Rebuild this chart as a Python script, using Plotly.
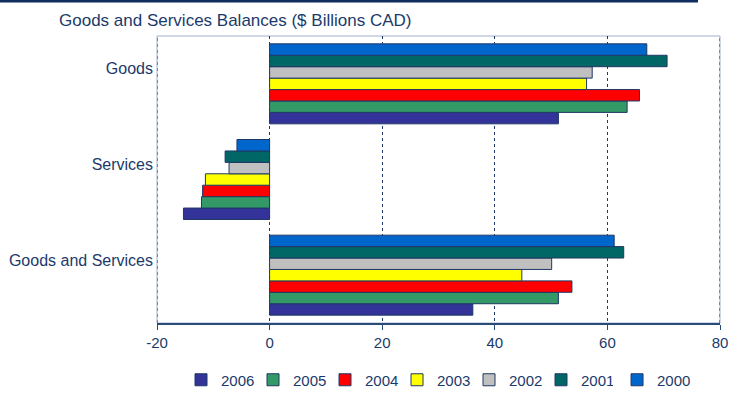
import plotly.graph_objects as go

# Balances in $ billions CAD
categories = ["Goods", "Services", "Goods and Services"]
years = ["2006", "2005", "2004", "2003", "2002", "2001", "2000"]
goods = [51.3, 63.5, 65.7, 56.3, 57.3, 70.6, 67.0]
services = [-15.3, -12.1, -11.9, -11.4, -7.2, -7.9, -5.8]
goods_and_services = [36.1, 51.3, 53.7, 44.8, 50.1, 62.9, 61.2]
colors = ["#333399", "#339966", "#FF0000", "#FFFF00", "#C0C0C0", "#006666", "#0066CC"]

x_ticks = [-20, 0, 20, 40, 60, 80]

navy = "#1B3A6B"
grid_navy = "#1F3864"
font_family = "Liberation Sans, Arial, sans-serif"

fig = go.Figure()
for i, yr in enumerate(years):
    fig.add_trace(go.Bar(
        name=yr,
        orientation="h",
        y=categories,
        x=[goods[i], services[i], goods_and_services[i]],
        marker=dict(color=colors[i], line=dict(color=grid_navy, width=1)),
        # the last entry sits in its own legend box so its label is not clipped
        legend="legend2" if i == len(years) - 1 else "legend",
    ))

W, H = 729, 393
ml, mr, mt, mb = 157, 9, 36, 70
pw, ph = W - ml - mr, H - mt - mb

legend_left = 181
entry_step = 72.67
legend_y = -(380 - mt - ph) / ph

# dotted rules on the outer tick positions (plot sides)
edge_rules = [
    dict(type="line", xref="x", yref="paper", x0=v, x1=v, y0=0, y1=1,
         line=dict(color=grid_navy, width=1, dash="dot"), layer="below")
    for v in (x_ticks[0], x_ticks[-1])
]

legend_common = dict(
    orientation="h", traceorder="normal", xanchor="left",
    y=legend_y, yanchor="middle", itemwidth=30,
    font=dict(size=15, color=navy), bgcolor="rgba(0,0,0,0)",
)

fig.update_layout(
    width=W, height=H,
    margin=dict(l=ml, r=mr, t=mt, b=mb, pad=0, autoexpand=False),
    paper_bgcolor="white", plot_bgcolor="white",
    barmode="group", bargap=0.164, bargroupgap=0,
    font=dict(family=font_family, color=navy, size=15),
    showlegend=True,
    legend=dict(legend_common, x=(legend_left - ml) / pw,
                entrywidth=27, entrywidthmode="pixels"),
    legend2=dict(legend_common,
                 x=(legend_left + (len(years) - 1) * entry_step - ml) / pw),
    xaxis=dict(
        range=[-20, 80], tickvals=x_ticks, ticktext=[str(v) for v in x_ticks],
        showgrid=True, gridcolor=grid_navy, griddash="dot", gridwidth=1,
        zeroline=False, showline=True, linecolor="#2B4A78", linewidth=1.5,
        ticks="outside", ticklen=5, tickcolor="#2B4A78",
        tickfont=dict(size=15, color=navy), automargin=False,
    ),
    yaxis=dict(
        categoryorder="array", categoryarray=categories[::-1],
        showgrid=False, zeroline=False, showline=False, ticks="",
        tickfont=dict(size=16, color=navy), automargin=False,
        ticklabelstandoff=3, ticklabelshift=-15,
    ),
    shapes=[
        # light frame round the plot area
        dict(type="rect", xref="paper", yref="paper", x0=0, x1=1, y0=0, y1=1,
             line=dict(color="#9FB0CC", width=1), layer="below"),
        # header rule across the top
        dict(type="rect", xref="paper", yref="paper",
             x0=-ml / pw, x1=(698 - ml) / pw,
             y0=1 + (mt - 2.5) / ph, y1=1 + mt / ph,
             line=dict(width=0), fillcolor="#0F2D5E"),
    ] + edge_rules,
    annotations=[
        dict(text="Goods and Services Balances ($ Billions CAD)",
             xref="paper", yref="paper", x=(57 - ml) / pw, xanchor="left",
             y=1 + (mt - 20) / ph, yanchor="middle", showarrow=False,
             font=dict(size=17, color=navy, family=font_family)),
    ],
)

fig.write_html("out.html")
